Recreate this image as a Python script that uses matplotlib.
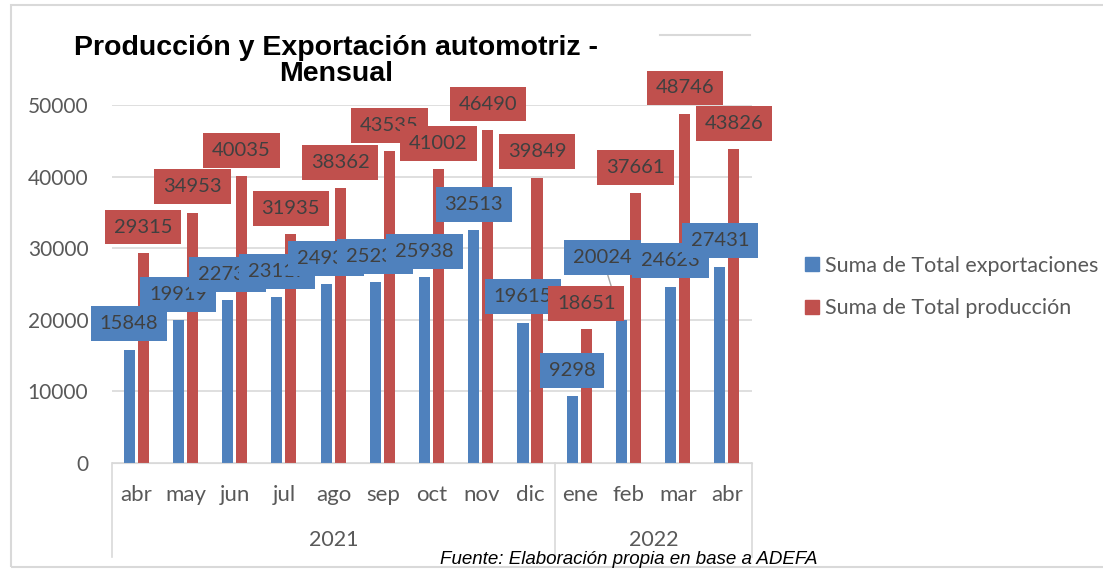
import matplotlib.pyplot as plt
from matplotlib.patches import Patch, Rectangle
import matplotlib.transforms as mtransforms

# ----------------------------------------------------------------------------
# Data
# ----------------------------------------------------------------------------
months = ["abr", "may", "jun", "jul", "ago", "sep", "oct", "nov", "dic",
          "ene", "feb", "mar", "abr"]
years = ["2021", "2022"]
year_sizes = [9, 4]
exportaciones = [15848, 19919, 22731, 23117, 24933, 25237, 25938, 32513,
                 19615, 9298, 20024, 24623, 27431]
produccion = [29315, 34953, 40035, 31935, 38362, 43535, 41002, 46490,
              39849, 18651, 37661, 48746, 43826]

BLUE = "#4F81BD"
RED = "#C0504D"
TXT = "#404040"
AXTXT = "#595959"
GRID = "#D9D9D9"
LABEL_FONT = ["Lato", "DejaVu Sans"]

# bar layout (category units)
W = 0.225
OFF_EXP, OFF_PROD = -0.152, 0.133
LABEL_DY = 26          # label centre above bar top [px]
# one export label was dragged away from its bar in the original (feb 2022)
label_nudge_exp = {10: (-19, 36)}

fig = plt.figure(figsize=(11.03, 5.69), dpi=100)
ax = fig.add_axes([112 / 1103, 1 - 463 / 569, 640 / 1103, 358 / 569])

x = list(range(len(months)))
ax.bar([i + OFF_EXP for i in x], exportaciones, width=W, color=BLUE, zorder=2)
ax.bar([i + OFF_PROD for i in x], produccion, width=W, color=RED, zorder=2)

ax.set_xlim(-0.5, len(months) - 0.5)
ax.set_ylim(0, 50000)
ax.set_yticks(range(0, 50001, 10000))
ax.set_yticklabels([str(v) for v in range(0, 50001, 10000)],
                   fontsize=15, color=AXTXT, family=LABEL_FONT)
ax.tick_params(axis="y", length=0, pad=17)
ax.set_xticks([])
ax.grid(axis="y", color=GRID, lw=1.2, zorder=0)
for s in ["left", "right", "top"]:
    ax.spines[s].set_visible(False)
ax.spines["bottom"].set_color(GRID)

box = dict(boxstyle="square,pad=0.44", ec="none")

# data labels: export series first, then production (drawn on top)
for i, v in enumerate(exportaciones):
    dx, dy = label_nudge_exp.get(i, (0, 0))
    arrow = None
    if i in label_nudge_exp:
        arrow = dict(arrowstyle="-", color="#A6A6A6", lw=1,
                     shrinkA=0, shrinkB=0)
    ax.annotate(str(v), xy=(i + OFF_EXP, v), xytext=(dx, LABEL_DY + dy),
                textcoords="offset pixels", ha="center", va="center",
                fontsize=14.5, color=TXT, family=LABEL_FONT, zorder=5,
                annotation_clip=False, arrowprops=arrow,
                bbox=dict(box, fc=BLUE))
for i, v in enumerate(produccion):
    ax.annotate(str(v), xy=(i + OFF_PROD, v), xytext=(0, LABEL_DY),
                textcoords="offset pixels", ha="center", va="center",
                fontsize=14.5, color=TXT, family=LABEL_FONT, zorder=6,
                annotation_clip=False, bbox=dict(box, fc=RED))

# multi-level category axis
trans = mtransforms.blended_transform_factory(ax.transData, ax.transAxes)
for i, m in enumerate(months):
    ax.text(i, -0.089, m, transform=trans, ha="center", va="center",
            fontsize=16, color=AXTXT, family=LABEL_FONT)
start = -0.5
edges = [start]
for yr, n in zip(years, year_sizes):
    ax.text(start + n / 2, -0.215, yr, transform=trans, ha="center",
            va="center", fontsize=15.5, color=AXTXT, family=LABEL_FONT)
    start += n
    edges.append(start)
for k, e in enumerate(edges):
    ax.plot([e, e], [0, -0.262], transform=trans, color=GRID, lw=1.2,
            clip_on=False)

# title
fig.text(336 / 1103, 1 - 61 / 569, "Producción y Exportación automotriz -\nMensual",
         ha="center", va="center", fontsize=20.5, fontweight="bold",
         family="Liberation Sans", linespacing=1.0)

# legend
handles = [Patch(color=BLUE), Patch(color=RED)]
leg = fig.legend(handles, ["Suma de Total exportaciones", "Suma de Total producción"],
                 loc="center left", bbox_to_anchor=(786 / 1103, 1 - 287 / 569),
                 frameon=False, handlelength=0.62, handleheight=0.62,
                 handletextpad=0.3, labelspacing=1.05,
                 prop=dict(family=LABEL_FONT, size=15.5))
for t in leg.get_texts():
    t.set_color(AXTXT)

# source note
fig.text(440 / 1103, 1 - 560 / 569, "Fuente: Elaboración propia en base a ADEFA",
         ha="left", va="center", fontsize=13.5, style="italic",
         family="Liberation Sans")

# small stray line and chart frame
fig.add_artist(plt.Line2D([660 / 1103, 750 / 1103], [1 - 35 / 569, 1 - 35 / 569],
                          color=GRID, lw=1.5))
fig.add_artist(Rectangle((11 / 1103, 1 - 567 / 569), 1.1, 562 / 569,
                         transform=fig.transFigure, fill=False, ec=GRID, lw=1.5))

fig.savefig("out.png", dpi=100)
